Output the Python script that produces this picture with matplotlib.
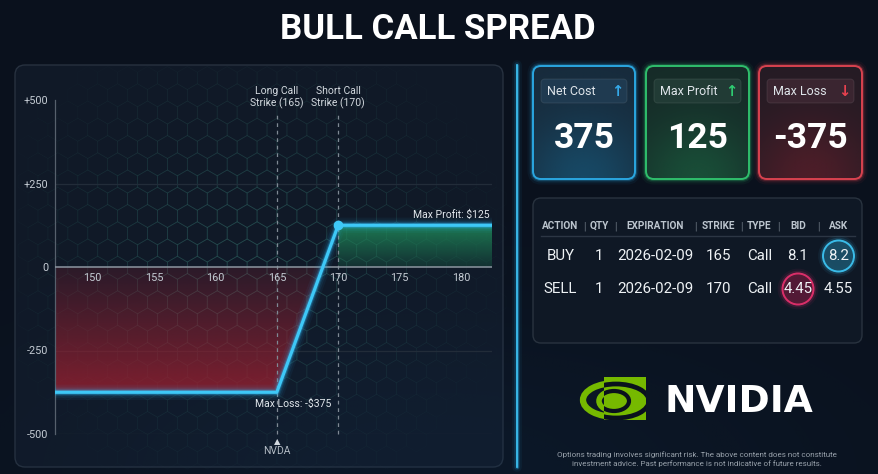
import numpy as np
import matplotlib
matplotlib.use("Agg")
import matplotlib.pyplot as plt
from matplotlib.patches import FancyBboxPatch, Circle, Rectangle, Polygon, Ellipse
from matplotlib.collections import PolyCollection
from matplotlib.colors import to_rgb

plt.rcParams['font.family'] = ['Roboto', 'DejaVu Sans']

# ---------------- data ----------------
title = "BULL CALL SPREAD"
ticker = "NVDA"
long_strike = 165
short_strike = 170
long_premium = 8.2     # ask paid for long call
short_premium = 4.45   # bid received for short call
contract_size = 100
price_range = [146.93, 182.53]
current_price = 165
x_ticks = [150, 155, 160, 165, 170, 175, 180]
y_ticks = [500, 250, 0, -250, -500]
y_tick_labels = ["+500", "+250", "0", "-250", "-500"]

card_titles = ["Net Cost", "Max Profit", "Max Loss"]
card_values = ["375", "125", "-375"]
card_arrows = ["\u2191", "\u2191", "\u2193"]

table_headers = ["ACTION", "QTY", "EXPIRATION", "STRIKE", "TYPE", "BID", "ASK"]
table_rows = [
    ["BUY", "1", "2026-02-09", "165", "Call", "8.1", "8.2"],
    ["SELL", "1", "2026-02-09", "170", "Call", "4.45", "4.55"],
]
brand = "NVIDIA"
disclaimer = ("Options trading involves significant risk. The above content does not constitute\n"
              "investment advice. Past performance is not indicative of future results.")

# ---------------- derived ----------------
net_debit = (long_premium - short_premium) * contract_size
max_profit = (short_strike - long_strike) * contract_size - net_debit
max_loss = -net_debit
breakeven = long_strike + net_debit / contract_size
pay_x = np.array([price_range[0], long_strike, short_strike, price_range[1]])
pay_y = (np.maximum(pay_x - long_strike, 0) - np.maximum(pay_x - short_strike, 0)) * contract_size - net_debit

# ---------------- figure ----------------
W, H = 879, 474
BG = '#0a111d'
fig = plt.figure(figsize=(W / 100, H / 100), dpi=100, facecolor=BG)
bg = fig.add_axes([0, 0, 1, 1])
bg.set_xlim(0, W); bg.set_ylim(H, 0); bg.axis('off')

def rbox(x, y, w, h, r, **kw):
    p = FancyBboxPatch((x, y), w, h, boxstyle=f"round,pad=0,rounding_size={r}", **kw)
    bg.add_patch(p)
    return p

def glow_image(x, y, w, h, color, cx, cy, sx, sy, amax, clip):
    gx = np.linspace(x, x + w, 120)
    gy = np.linspace(y, y + h, 120)
    GX, GY = np.meshgrid(gx, gy)
    a = amax * np.exp(-((GX - cx) ** 2 / (2 * sx ** 2) + (GY - cy) ** 2 / (2 * sy ** 2)))
    img = np.zeros((120, 120, 4))
    img[..., :3] = to_rgb(color)
    img[..., 3] = a
    im = bg.imshow(img, extent=(x, x + w, y + h, y), origin='upper', aspect='auto',
                   interpolation='bilinear', zorder=2)
    im.set_clip_path(clip)

# subtle background glow
glow_image(0, 0, W, H, '#123050', 440, 474, 300, 120, 0.22, Rectangle((0, 0), W, H, transform=bg.transData))

# chart panel
panel = rbox(15, 65, 488, 402, 10, fc='#101927', ec='#27313f', lw=1.0, zorder=1)

# hexagon pattern (pointy-top)
r = 11.5
verts, cols = [], []
ang = np.deg2rad(np.arange(30, 390, 60))
for j, cy in enumerate(np.arange(78, 462, 1.5 * r)):
    off = (np.sqrt(3) * r / 2) if j % 2 else 0
    for cx in np.arange(28 + off, 500, np.sqrt(3) * r):
        a = 0.38 * np.exp(-((cx - 250) ** 2 / (2 * 115 ** 2) + (cy - 260) ** 2 / (2 * 105 ** 2)))
        if a < 0.03:
            continue
        verts.append(np.c_[cx + r * np.cos(ang), cy + r * np.sin(ang)])
        cols.append((0.20, 0.42, 0.40, a))
pc = PolyCollection(verts, facecolors='none', edgecolors=cols, linewidths=0.6, zorder=1.5)
bg.add_collection(pc)

# separator
for lw, al in [(7, 0.06), (4, 0.15), (2, 0.35)]:
    bg.plot([517, 517], [65, 467], color='#29b6f6', lw=lw, alpha=al, solid_capstyle='round', zorder=2)
bg.plot([517, 517], [65, 467], color='#3fc6f7', lw=1.2, zorder=2)

# title
bg.text(438, 29, title, ha='center', va='center', fontsize=25, fontweight='bold', color='white', zorder=3)

# ---------------- cards ----------------
cards = [
    dict(x=533, w=102, edge='#2aa6e0', fill='#172b3c', glow='#17587a', pill='#1f3a50', acc='#35a9e8'),
    dict(x=646, w=103, edge='#2fbe6c', fill='#162b28', glow='#1b6040', pill='#213b35', acc='#2ecc71'),
    dict(x=759, w=103, edge='#d8424f', fill='#251b24', glow='#621f2b', pill='#3a2530', acc='#e8414f'),
]
cy0, ch = 66, 113
for c, t, v, arw in zip(cards, card_titles, card_values, card_arrows):
    x, w = c['x'], c['w']
    for lw, al in [(8, 0.06), (5, 0.12), (3, 0.25)]:
        rbox(x, cy0, w, ch, 8, fc='none', ec=c['edge'], lw=lw, alpha=al, zorder=2)
    body = rbox(x, cy0, w, ch, 8, fc=c['fill'], ec='none', zorder=2)
    glow_image(x, cy0, w, ch, c['glow'], x + w / 2, cy0 + ch, w * 0.42, ch * 0.38, 0.65, body)
    rbox(x, cy0, w, ch, 8, fc='none', ec=c['edge'], lw=1.4, zorder=3)
    rbox(x + 8, 79, w - 16, 24, 4, fc=c['pill'], ec=(1, 1, 1, 0.08), lw=0.8, zorder=3)
    bg.text(x + 14, 91, t, ha='left', va='center', fontsize=9, color='#dfe5ea', zorder=4)
    bg.text(x + w - 18, 91, arw, ha='center', va='center', fontsize=10.5, color=c['acc'],
            fontweight='bold', family=['DejaVu Sans'], zorder=4)
    bg.text(x + w / 2, 139, v, ha='center', va='center', fontsize=25.5, fontweight='bold',
            color='white', zorder=4)

# ---------------- table ----------------
rbox(533, 198, 329, 145, 8, fc='#0f1825', ec='#29333f', lw=1.0, zorder=2)
col_x = [560.5, 599.5, 655.5, 718.5, 759.5, 798, 838.5]
sep_x = [584.3, 615.7, 695.7, 741.7, 778.3, 818.7]
for hx, hd in zip(col_x, table_headers):
    bg.text(hx, 226, hd, ha='center', va='center', fontsize=7.2, fontweight='bold', color='#bcc5ce', zorder=4)
for sx in sep_x:
    bg.text(sx, 226, '|', ha='center', va='center', fontsize=7.5, color='#6a7480', zorder=4)
bg.plot([541, 855], [236, 236], color='#2c3644', lw=1.0, zorder=3)
# highlight circles (ask of buy leg, bid of sell leg)
for (ccx, ccy, ec, fc) in [(col_x[6], 256, '#3cc2f0', '#1b5068'), (col_x[5], 289, '#e2306c', '#561a36')]:
    for lw, al in [(7, 0.07), (4, 0.16)]:
        bg.add_patch(Circle((ccx, ccy), 15.5, fc='none', ec=ec, lw=lw, alpha=al, zorder=3))
    bg.add_patch(Circle((ccx, ccy), 15.5, fc=fc, ec=ec, lw=1.4, alpha=0.95, zorder=3))
for ry, row in zip([256, 289], table_rows):
    for hx, val in zip(col_x, row):
        bg.text(hx, ry, val, ha='center', va='center', fontsize=10.8, color='#eef2f5', zorder=4)

# ---------------- NVIDIA logo ----------------
green = '#76b900'
bg.add_patch(Rectangle((604, 377), 42, 43, fc=green, ec='none', zorder=3))
left_clip = Rectangle((575, 370), 29, 60, transform=bg.transData)
e1 = Ellipse((616, 400), 66, 34, fc='none', ec=green, lw=4.5, zorder=3)
e2 = Ellipse((614, 401), 30, 20, fc='none', ec=green, lw=4.0, zorder=3)
bg.add_patch(e1); bg.add_patch(e2)
e1.set_clip_path(left_clip); e2.set_clip_path(left_clip)
in_clip = Rectangle((604, 377), 42, 43, transform=bg.transData)
for (cx_, w_, h_, lw_) in [(616, 66, 34, 3.4), (614, 30, 20, 3.0)]:
    e = Ellipse((cx_, 401), w_, h_, fc='none', ec=BG, lw=lw_, zorder=3.5)
    bg.add_patch(e); e.set_clip_path(in_clip)
bg.text(739, 402, brand, ha='center', va='center', fontsize=27, fontweight='bold',
        family=['DejaVu Sans'], color='white', zorder=4)

bg.text(697, 459, disclaimer, ha='center', va='center', fontsize=5.8, color='#98a1ab',
        linespacing=1.25, zorder=4)

# ---------------- payoff chart ----------------
ax = fig.add_axes([55 / W, 1 - 434 / H, (492 - 55) / W, (434 - 100) / H])
ax.set_facecolor('none')
for s in ['top', 'right', 'bottom']:
    ax.spines[s].set_visible(False)
ax.spines['left'].set_color('#56606c'); ax.spines['left'].set_linewidth(0.9)

for yv in [250, -250, -500]:
    ax.axhline(yv, color='#222c39', lw=0.9, zorder=1)
ax.axhline(0, color='#8c96a1', lw=1.1, zorder=3)

ax.set_yticks(y_ticks, y_tick_labels)
ax.set_xticks([])
ax.tick_params(axis='y', length=0, colors='#c5ccd4', labelsize=7.8, pad=5)
for t in x_ticks:
    ax.annotate(str(t), (t, 0), xytext=(0, -4.5), textcoords='offset points', ha='center', va='top',
                fontsize=7.8, color='#c5ccd4', zorder=4)

# gradient fills
loss_poly = Polygon([(pay_x[0], 0), (pay_x[0], max_loss), (long_strike, max_loss), (breakeven, 0)],
                    closed=True, fc='none', ec='none')
ax.add_patch(loss_poly)
n = 200
red_img = np.zeros((n, 1, 4)); red_img[..., :3] = to_rgb('#952030')
red_img[:, 0, 3] = np.linspace(0.82, 0.2, n)
im = ax.imshow(red_img, extent=(pay_x[0], pay_x[-1], max_loss, 0), origin='lower', aspect='auto',
               interpolation='bilinear', zorder=2)
im.set_clip_path(loss_poly)

prof_poly = Polygon([(short_strike, 0), (short_strike, max_profit), (pay_x[-1], max_profit), (pay_x[-1], 0)],
                    closed=True, fc='none', ec='none')
ax.add_patch(prof_poly)
grn_img = np.zeros((n, 1, 4)); grn_img[..., :3] = to_rgb('#1f8a5a')
grn_img[:, 0, 3] = np.linspace(0.2, 0.85, n)
im2 = ax.imshow(grn_img, extent=(pay_x[0], pay_x[-1], 0, max_profit), origin='lower', aspect='auto',
                interpolation='bilinear', zorder=2)
im2.set_clip_path(prof_poly)

# strike lines
for k in [long_strike, short_strike]:
    ax.plot([k, k], [-500, 462], color='#7f8994', lw=0.9, ls=(0, (3, 3)), zorder=2.5, clip_on=False)
ax.text(long_strike, 472, "Long Call\nStrike (165)", ha='center', va='bottom', fontsize=7.5,
        color='#d3d9df', linespacing=1.25, clip_on=False)
ax.text(short_strike, 472, "Short Call\nStrike (170)", ha='center', va='bottom', fontsize=7.5,
        color='#d3d9df', linespacing=1.25, clip_on=False)

# payoff line with glow
for lw, al in [(11, 0.05), (8, 0.08), (5.5, 0.14), (3.8, 0.3)]:
    ax.plot(pay_x, pay_y, color='#29b6f6', lw=lw, alpha=al, solid_joinstyle='round', zorder=4)
ax.plot(pay_x, pay_y, color='#3ec8f7', lw=2.3, solid_joinstyle='round', zorder=5)
ax.plot([short_strike], [max_profit], 'o', ms=6, color='#3ec8f7', zorder=6)

ax.annotate(f"Max Profit: ${max_profit:.0f}", (pay_x[-1], max_profit), xytext=(-1.5, 3.5),
            textcoords='offset points', ha='right', va='bottom', fontsize=7.5, color='#e2e7ec', zorder=6)
ax.annotate(f"Max Loss: -${-max_loss:.0f}", (long_strike, max_loss), xytext=(12, -4.5),
            textcoords='offset points', ha='center', va='top', fontsize=7.5, color='#e2e7ec', zorder=6)

ax.annotate("\u25B2", (current_price, -500), xytext=(0, -2), textcoords='offset points',
            ha='center', va='top', fontsize=6, color='#d3d9df', family=['DejaVu Sans'], annotation_clip=False)
ax.annotate(ticker, (current_price, -500), xytext=(0, -9), textcoords='offset points',
            ha='center', va='top', fontsize=7.5, color='#b3bcc5', annotation_clip=False)

ax.set_xlim(price_range[0], price_range[1])
ax.set_ylim(-500, 500)

fig.savefig('out.png', dpi=100, facecolor=BG)
